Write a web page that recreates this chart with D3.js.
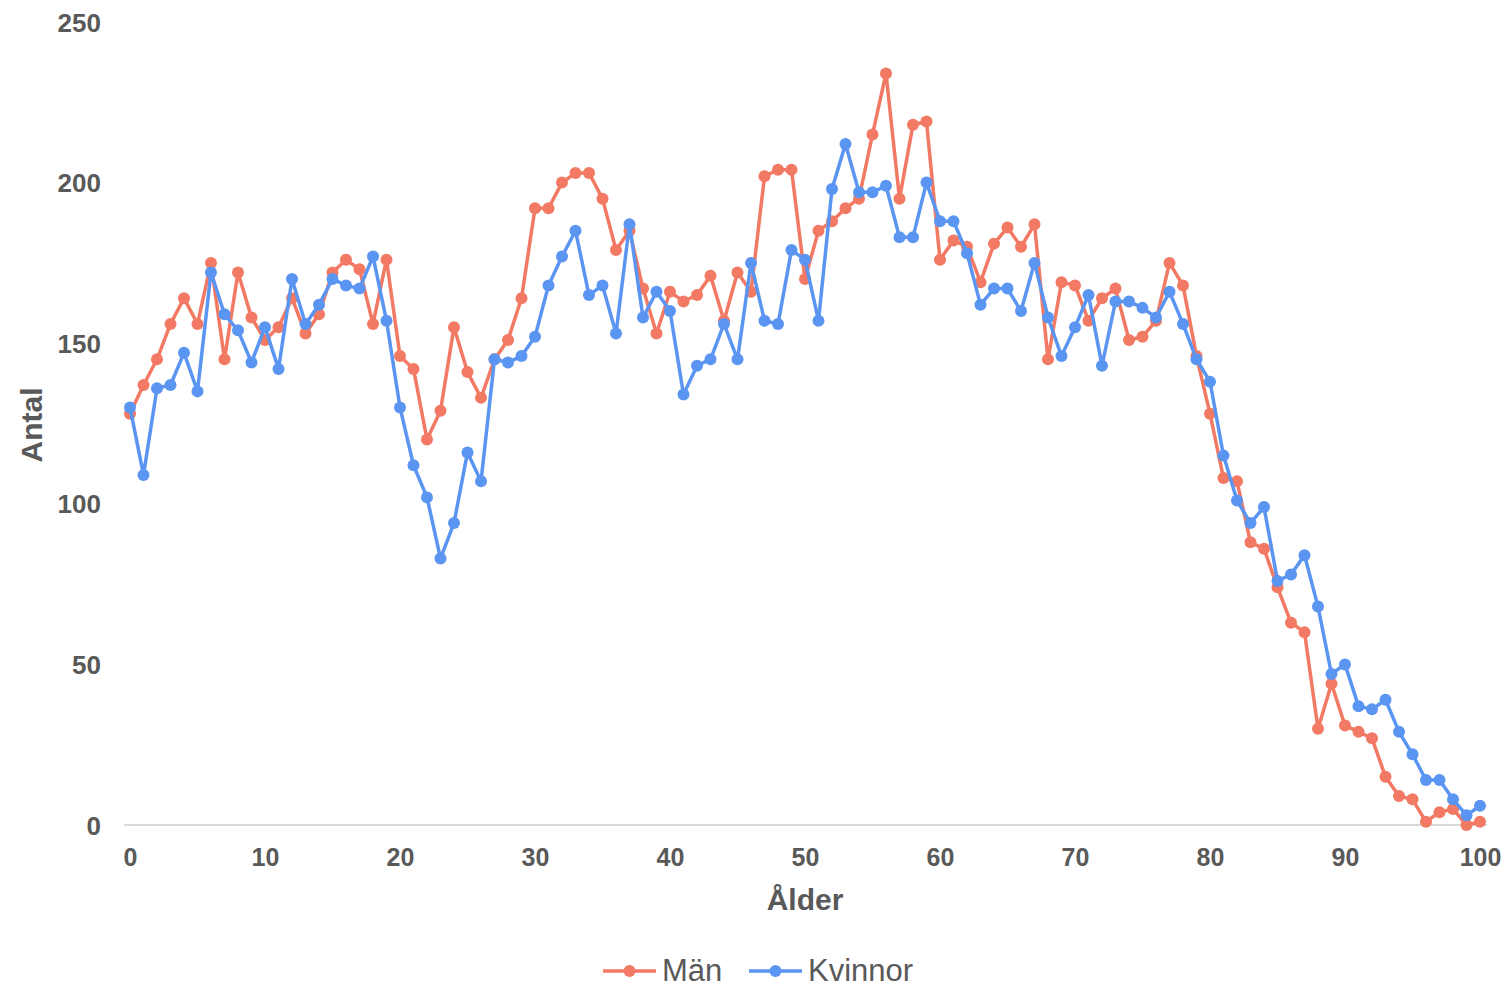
<!DOCTYPE html>
<html><head><meta charset="utf-8">
<script src="https://cdn.jsdelivr.net/npm/d3@7"></script>
<style>body{margin:0;background:#fff;} svg{display:block;font-family:"Liberation Sans",Arial,sans-serif;}</style>
</head><body>
<svg id="chart" width="1506" height="988"></svg>
<script>
const ages = d3.range(0, 101);
const man = [128,137,145,156,164,156,175,145,172,158,151,155,164,153,159,172,176,173,156,176,
146,142,120,129,155,141,133,145,151,164,192,192,200,203,203,195,179,185,167,153,
166,163,165,171,157,172,166,202,204,204,170,185,188,192,195,215,234,195,218,219,
176,182,180,169,181,186,180,187,145,169,168,157,164,167,151,152,157,175,168,146,
128,108,107,88,86,74,63,60,30,44,31,29,27,15,9,8,1,4,5,0,1];
const kvinnor = [130,109,136,137,147,135,172,159,154,144,155,142,170,156,162,170,168,167,177,157,
130,112,102,83,94,116,107,145,144,146,152,168,177,185,165,168,153,187,158,166,
160,134,143,145,156,145,175,157,156,179,176,157,198,212,197,197,199,183,183,200,
188,188,178,162,167,167,160,175,158,146,155,165,143,163,163,161,158,166,156,145,
138,115,101,94,99,76,78,84,68,47,50,37,36,39,29,22,14,14,8,3,6];
const xTicks = [0,10,20,30,40,50,60,70,80,90,100];
const yTicks = [0,50,100,150,200,250];
const seriesNames = ["Män","Kvinnor"];
const colors = ["#F27963","#5B95F2"];

const svg = d3.select("#chart");
const x = d3.scaleLinear().domain([0,100]).range([130,1480]);
const y = d3.scaleLinear().domain([0,250]).range([825,22]);
const textCol = "#595959";

// baseline
svg.append("line").attr("x1",124).attr("x2",1487).attr("y1",y(0)).attr("y2",y(0))
  .attr("stroke","#d9d9d9").attr("stroke-width",2);

// y axis labels
const yAxis = d3.axisLeft(y).tickValues(yTicks).tickSize(0).tickPadding(0);
const gy = svg.append("g").attr("transform","translate(101,0)").call(yAxis);
gy.select(".domain").remove();
gy.selectAll("text").attr("fill",textCol).attr("font-size",26).attr("font-weight","bold")
  .attr("font-family","'Liberation Sans',Arial,sans-serif").attr("dy","0.35em");

// x axis labels
const xAxis = d3.axisBottom(x).tickValues(xTicks).tickSize(0).tickPadding(0);
const gx = svg.append("g").attr("transform","translate(0,848)").call(xAxis);
gx.select(".domain").remove();
gx.selectAll("text").attr("fill",textCol).attr("font-size",25).attr("font-weight","bold")
  .attr("font-family","'Liberation Sans',Arial,sans-serif").attr("dy","0.72em");

// axis titles
svg.append("text").attr("x",805).attr("y",910).attr("text-anchor","middle")
  .attr("fill",textCol).attr("font-size",30).attr("font-weight","bold").text("Ålder");
svg.append("text").attr("transform","translate(42,425) rotate(-90)").attr("text-anchor","middle")
  .attr("fill",textCol).attr("font-size",30).attr("font-weight","bold").text("Antal");

// series
const data = [man, kvinnor];
const line = d3.line().x((d,i)=>x(ages[i])).y(d=>y(d));
data.forEach((vals, si) => {
  const g = svg.append("g");
  g.append("path").datum(vals).attr("d", line).attr("fill","none")
    .attr("stroke", colors[si]).attr("stroke-width",3.5).attr("stroke-linejoin","round");
  g.selectAll("circle").data(vals).join("circle")
    .attr("cx",(d,i)=>x(ages[i])).attr("cy",d=>y(d)).attr("r",6).attr("fill",colors[si]);
});

// legend
const legendItems = [{x1:603,x2:656,tx:662},{x1:749,x2:802,tx:808}];
legendItems.forEach((it, i) => {
  const ly = 971;
  svg.append("line").attr("x1",it.x1).attr("x2",it.x2).attr("y1",ly).attr("y2",ly)
    .attr("stroke",colors[i]).attr("stroke-width",3.5);
  svg.append("circle").attr("cx",(it.x1+it.x2)/2).attr("cy",ly).attr("r",6).attr("fill",colors[i]);
  svg.append("text").attr("x",it.tx).attr("y",ly).attr("dy","0.33em").attr("fill",textCol)
    .attr("font-size",31).text(seriesNames[i]);
});
</script>
</body></html>
